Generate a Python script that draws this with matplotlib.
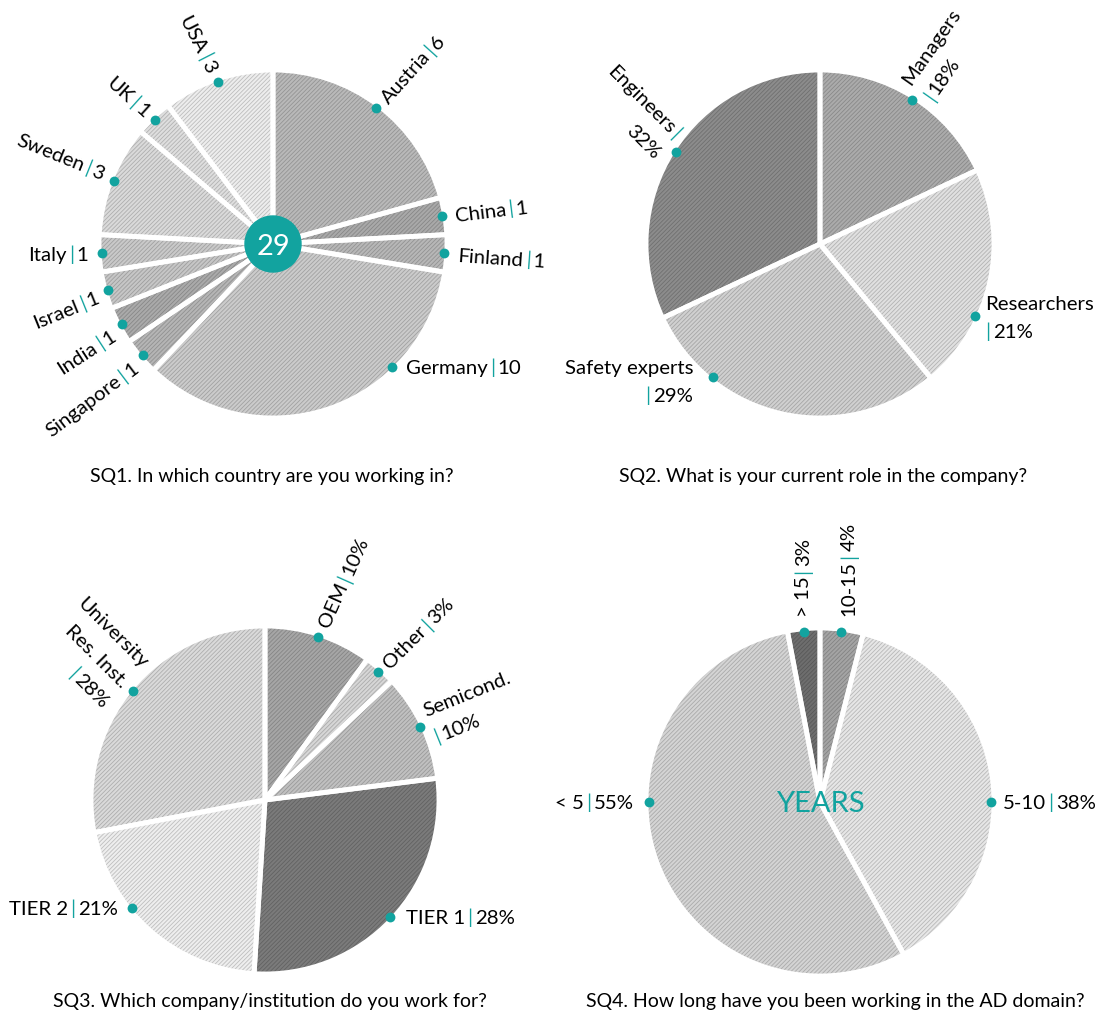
import numpy as np
import matplotlib
import matplotlib.pyplot as plt
from matplotlib.patches import Circle
from matplotlib.font_manager import FontProperties
from matplotlib.colors import to_rgb

plt.rcParams['hatch.linewidth'] = 0.6

W, H = 1102, 1013
TEAL = '#12a39f'
FONT = 'Lato'
FS = 14.7

# SQ1 - countries (counts)
countries = ['Austria', 'China', 'Finland', 'Germany', 'Singapore', 'India',
             'Israel', 'Italy', 'Sweden', 'UK', 'USA']
country_counts = [6, 1, 1, 10, 1, 1, 1, 1, 3, 1, 3]

# SQ2 - roles (%)
roles = ['Managers', 'Researchers', 'Safety experts', 'Engineers']
role_pct = [18, 21, 29, 32]

# SQ3 - company / institution (%)
companies = ['OEM', 'Other', 'Semicond.', 'TIER 1', 'TIER 2', 'University\nRes. Inst.']
company_pct = [10, 3, 10, 28, 21, 28]

# SQ4 - years in AD domain (%)
years = ['10-15', '5-10', '< 5', '> 15']
years_pct = [4, 38, 55, 3]

titles = ['SQ1. In which country are you working in?',
          'SQ2. What is your current role in the company?',
          'SQ3. Which company/institution do you work for?',
          'SQ4. How long have you been working in the AD domain?']

fig = plt.figure(figsize=(W / 100, H / 100), dpi=100)
ax = fig.add_axes([0, 0, 1, 1])
renderer = fig.canvas.get_renderer()
fp = FontProperties(family=FONT, size=FS)
fp_title = FontProperties(family=FONT, size=14)


def rich_label(x, y, text, rot, ha):
    # draw text with teal '|' separators, rotated, multi-line
    lines = text.split('\n')
    em = FS * 100 / 72
    lh = em * 1.38
    th = np.radians(rot)
    u = np.array([np.cos(th), np.sin(th)])
    p = np.array([-np.sin(th), np.cos(th)])
    n = len(lines)
    for i, line in enumerate(lines):
        pieces = []
        for j, part in enumerate(line.split('|')):
            if j > 0:
                pieces.append(('|', TEAL))
            if part:
                pieces.append((part, 'black'))
        ws = [renderer.get_text_width_height_descent(s, fp, ismath=False)[0] for s, _ in pieces]
        pad = 2.5
        total = sum(ws) + pad * 2 * sum(1 for s, _ in pieces if s == '|')
        if pieces and pieces[0][0] == '|':
            total -= pad
        if pieces and pieces[-1][0] == '|':
            total -= pad
        s0 = {'left': 0, 'right': -total, 'center': -total / 2}[ha]
        b = ((n - 1) / 2 - i) * lh - 0.36 * em
        pos = s0
        for k, ((txt, col), w) in enumerate(zip(pieces, ws)):
            if txt == '|' and k > 0:
                pos += pad
            off = pos * u + b * p
            ax.text(x + off[0], y + off[1], txt, color=col, fontproperties=fp,
                    rotation=rot, rotation_mode='anchor', ha='left', va='baseline')
            pos += w
            if txt == '|':
                pos += pad


def draw_pie(center, values, names, fmt, faces, styles, radius=174):
    cx, cy = center
    ax.pie(values, radius=radius, center=(cx, cy), startangle=90, counterclock=False,
           colors=faces, wedgeprops=dict(linewidth=0, hatch='////////'))
    wedges = ax.patches[-len(values):]
    for w, c in zip(wedges, faces):
        w.set_edgecolor(tuple(v * 0.8 for v in to_rgb(c)))
        w.set_linewidth(0)
    ax.pie(values, radius=radius, center=(cx, cy), startangle=90, counterclock=False,
           colors=['none'] * len(values), wedgeprops=dict(linewidth=3.5, edgecolor='white'))
    total = float(sum(values))
    cum = np.cumsum([0] + list(values))
    for k, (name, v) in enumerate(zip(names, values)):
        rot, ha, sep, gap, dang, shift = styles[k]
        mid = 90 - (cum[k] + v / 2) / total * 360
        a = np.radians(mid if dang is None else dang)
        dx, dy = cx + (radius - 3) * np.cos(a), cy + (radius - 3) * np.sin(a)
        ax.scatter([dx], [dy], s=50, color=TEAL, zorder=6, linewidths=0)
        th = np.radians(rot)
        sgn = 1 if ha == 'left' else -1
        lx = dx + sgn * gap * np.cos(th) - shift * np.sin(th)
        ly = dy + sgn * gap * np.sin(th) + shift * np.cos(th)
        rich_label(lx, ly, name + sep + fmt(v), rot, ha)


# style per label: rotation, alignment, separator, gap, dot angle, perpendicular shift
sq1_faces = ['#b9b9b9', '#a9a9a9', '#b7b7b7', '#cbcbcb', '#b5b5b5', '#aaaaaa',
             '#c6c6c6', '#c9c9c9', '#dadada', '#dedede', '#ededed']
sq1_styles = [(48, 'left', '|', 10, None, 0), (7, 'left', '|', 13, None, 0),
              (-4, 'left', '|', 14, None, 0), (0, 'left', '|', 14, -46, 0),
              (37, 'right', '|', 12, None, -4), (33, 'right', '|', 12, None, -3),
              (22, 'right', '|', 12, None, -2), (0, 'right', '|', 14, None, 0),
              (-22, 'right', '|', 12, None, 3), (-42, 'right', '|', 10, None, 0),
              (-63, 'right', '|', 12, None, 0)]
draw_pie((273, H - 244), country_counts, countries, lambda v: '%d' % v, sq1_faces, sq1_styles)

sq2_faces = ['#ababab', '#e0e0e0', '#d0d0d0', '#8c8c8c']
sq2_styles = [(55, 'left', '\n|', 10, None, 2), (0, 'left', '\n|', 10, -25, 0),
              (0, 'right', '\n|', 20, -128.7, -3), (-45, 'right', '|\n', 10, None, 0)]
draw_pie((820, H - 244), role_pct, roles, lambda v: '%d%%' % v, sq2_faces, sq2_styles)

sq3_faces = ['#a6a6a6', '#d6d6d6', '#c0c0c0', '#7b7b7b', '#eeeeee', '#dadada']
sq3_styles = [(66, 'left', '|', 12, None, 0), (45, 'left', '|', 10, None, 0),
              (22, 'left', '\n|', 10, None, 0), (0, 'left', '|', 16, None, 0),
              (0, 'right', '|', 14, -141, 0), (-45, 'right', '\n|', 10, None, 0)]
draw_pie((265, H - 800), company_pct, companies, lambda v: '%d%%' % v, sq3_faces, sq3_styles)

sq4_faces = ['#a4a4a4', '#e6e6e6', '#d4d4d4', '#6e6e6e']
sq4_styles = [(90, 'left', '|', 16, None, -6), (0, 'left', '|', 12, 0, 0),
              (0, 'right', '|', 15, 180, 0), (90, 'left', '|', 15, None, 2)]
draw_pie((820, H - 802), years_pct, years, lambda v: '%d%%' % v, sq4_faces, sq4_styles)

# centre marks
ax.add_patch(Circle((273, H - 244), 28, color=TEAL, zorder=7))
ax.text(273, H - 244, str(sum(country_counts)), color='white', fontsize=21, family=FONT,
        ha='center', va='center_baseline', zorder=8)
ax.text(820, H - 802, 'YEARS', color=TEAL, fontsize=21, family=FONT,
        ha='center', va='center_baseline', zorder=8)

for (tx, ty), t in zip([(272, H - 475), (823, H - 475), (270, H - 1000), (835, H - 1000)], titles):
    ax.text(tx, ty, t, fontproperties=fp_title, ha='center', va='center_baseline')

ax.set_xlim(0, W)
ax.set_ylim(0, H)
ax.set_aspect('equal')
ax.axis('off')
fig.savefig('out.png', dpi=100)
